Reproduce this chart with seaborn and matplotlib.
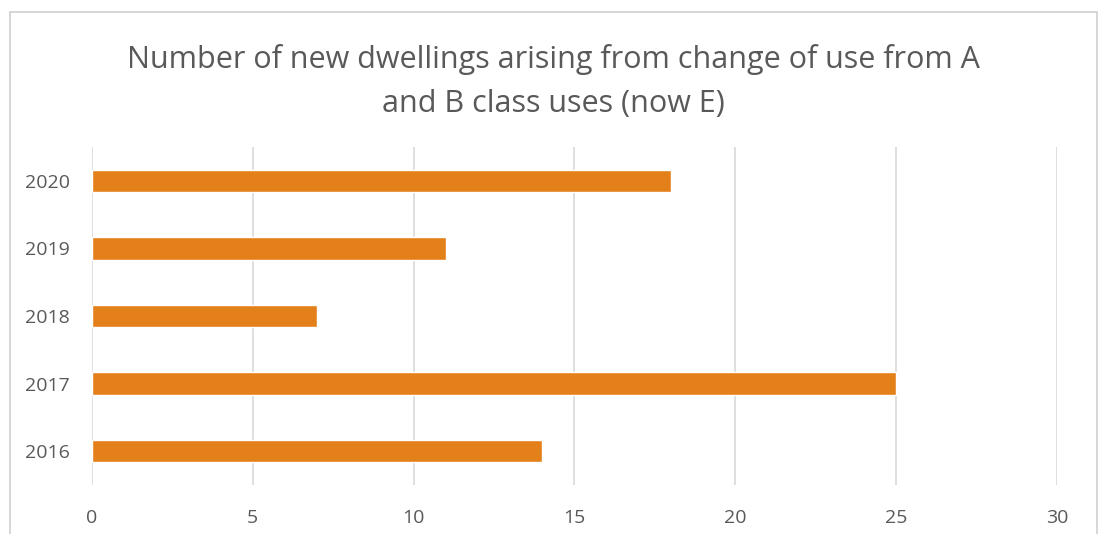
import matplotlib
matplotlib.use("Agg")
import matplotlib.pyplot as plt
from matplotlib.patches import Rectangle
import seaborn as sns
import pandas as pd

years = ["2020", "2019", "2018", "2017", "2016"]
dwellings = [18, 11, 7, 25, 14]
x_ticks = [0, 5, 10, 15, 20, 25, 30]
title = "Number of new dwellings arising from change of use from A\nand B class uses (now E)"

sns.set_theme(style="white")
plt.rcParams["font.family"] = ["Open Sans", "DejaVu Sans"]

text_color = "#595959"
bar_color = "#E3801A"
grid_color = "#D9D9D9"

df = pd.DataFrame({"year": years, "dwellings": dwellings})

fig = plt.figure(figsize=(11.04, 5.34), dpi=100)
ax = fig.add_axes([0.0833, 0.0918, 0.8741, 0.6329])

sns.barplot(data=df, x="dwellings", y="year", order=years, color=bar_color,
            saturation=1, width=0.33, ax=ax, zorder=3)

ax.set_xlim(0, 30)
ax.set_xticks(x_ticks)
ax.set_xticklabels([str(t) for t in x_ticks])
ax.set_ylim(4.5, -0.5)
ax.grid(axis="x", color=grid_color, linewidth=1.2, zorder=0)
ax.grid(axis="y", visible=False)
for s in ax.spines.values():
    s.set_visible(False)
ax.set_xlabel("")
ax.set_ylabel("")
ax.tick_params(axis="both", length=0, labelsize=14, labelcolor=text_color)
ax.tick_params(axis="x", pad=17)
ax.tick_params(axis="y", pad=16)

fig.text(0.501, 0.848, title, ha="center", va="center", fontsize=22,
         color=text_color, linespacing=1.6)

# outer chart frame
fig.patches.append(Rectangle((10 / 1104, -0.05), 1087 / 1104, 1.05 - 12 / 534,
                             transform=fig.transFigure, fill=False,
                             edgecolor="#CFCFCF", linewidth=1.2))

fig.savefig("out.png", dpi=100, facecolor="white")
